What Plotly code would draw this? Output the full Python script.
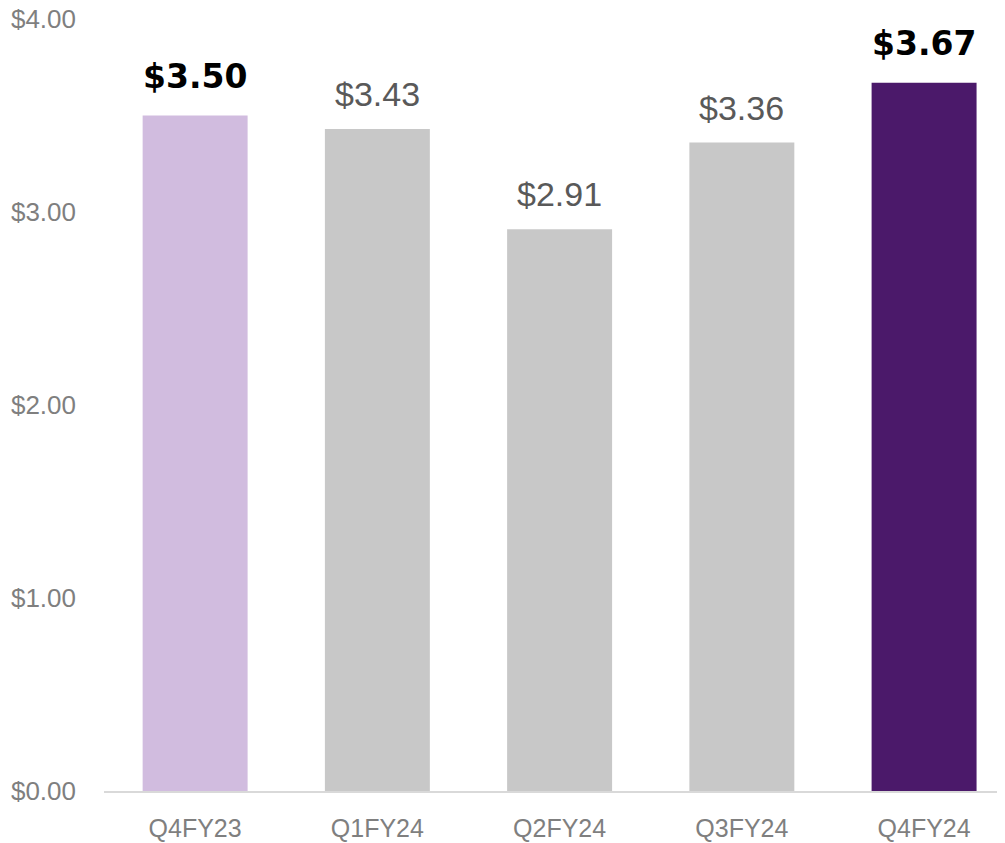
import plotly.graph_objects as go

categories = ["Q4FY23", "Q1FY24", "Q2FY24", "Q3FY24", "Q4FY24"]
eps_values = [3.50, 3.43, 2.91, 3.36, 3.67]
bar_colors = ["#D1BCDF", "#C8C8C8", "#C8C8C8", "#C8C8C8", "#4B196A"]
highlight = [True, False, False, False, True]
y_tick_vals = [0, 1, 2, 3, 4]
y_tick_text = ["$0.00", "$1.00", "$2.00", "$3.00", "$4.00"]

fig = go.Figure()
fig.add_trace(go.Bar(
    x=categories,
    y=eps_values,
    marker=dict(color=bar_colors, line=dict(width=0)),
    width=0.576,
    hoverinfo="skip",
))

for cat, val, hl in zip(categories, eps_values, highlight):
    if hl:
        font = dict(family="DejaVu Sans", size=33, color="#000000", weight="bold")
        shift = 18
    else:
        font = dict(family="Liberation Sans, Arial", size=34, color="#595959")
        shift = 14
    fig.add_annotation(
        x=cat, y=val, text=f"${val:.2f}", showarrow=False,
        yanchor="bottom", xanchor="center", yshift=shift, font=font,
    )

fig.update_layout(
    width=997, height=835,
    margin=dict(l=96, r=0, t=11, b=52),
    plot_bgcolor="white", paper_bgcolor="white",
    showlegend=False,
    xaxis=dict(
        type="category",
        range=[-0.5, 4.444],
        showgrid=False,
        showline=True, linecolor="#D9D9D9", linewidth=2,
        ticks="", tickfont=dict(family="Liberation Sans, Arial", size=25, color="#7F7F7F"),
        ticklabelstandoff=14,
        automargin=False,
        fixedrange=True,
    ),
    yaxis=dict(
        range=[0, 4],
        tickvals=y_tick_vals, ticktext=y_tick_text,
        showgrid=False, zeroline=False, showline=False,
        ticks="", tickfont=dict(family="Liberation Sans, Arial", size=26, color="#7F7F7F"),
        ticklabelstandoff=27,
        ticklabeloverflow="allow",
        automargin=False,
        fixedrange=True,
    ),
)

fig.write_html("out.html")
